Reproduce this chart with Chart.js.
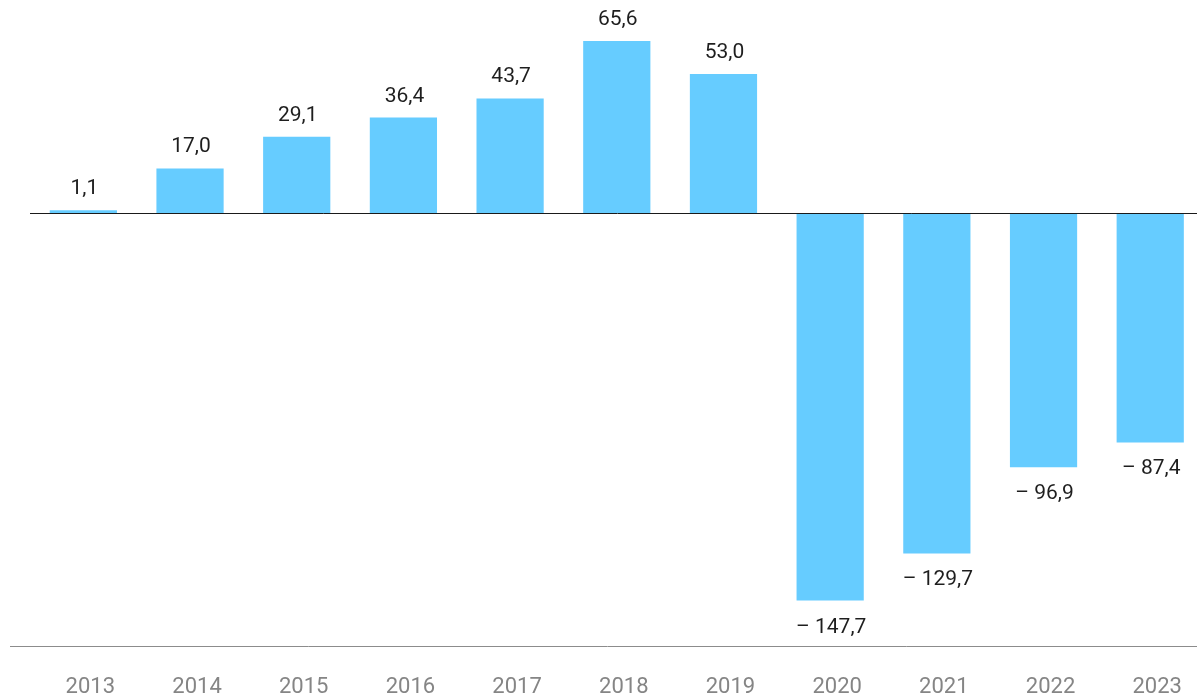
<!DOCTYPE html>
<html>
<head>
<meta charset="utf-8">
<script src="https://cdn.jsdelivr.net/npm/chart.js@4/dist/chart.umd.min.js"></script>
<style>
    html, body { margin: 0; padding: 0; background: #fff; overflow: hidden; width: 1197px; height: 699px; }
    canvas { display: block; }
</style>
</head>
<body>
<canvas id="chart" width="1205" height="728"></canvas>
<script>
const years = ['2013', '2014', '2015', '2016', '2017', '2018', '2019', '2020', '2021', '2022', '2023'];
const values = [1.1, 17.0, 29.1, 36.4, 43.7, 65.6, 53.0, -147.7, -129.7, -96.9, -87.4];

function formatValue(v) {
    const s = Math.abs(v).toFixed(1).replace('.', ',');
    return v < 0 ? '\u2013 ' + s : s;
}

const valueLabels = {
    id: 'valueLabels',
    afterDatasetsDraw(chart) {
        const ctx = chart.ctx;
        const meta = chart.getDatasetMeta(0);
        ctx.save();
        ctx.font = '21px Roboto, sans-serif';
        ctx.fillStyle = '#1e1e1e';
        ctx.textAlign = 'center';
        ctx.textBaseline = 'alphabetic';
        meta.data.forEach((bar, i) => {
            const v = values[i];
            const y = v >= 0 ? bar.y - 16 : bar.y + 32;
            ctx.fillText(formatValue(v), bar.x + 1, y);
        });
        ctx.restore();
    }
};

const axisLines = {
    id: 'axisLines',
    afterDatasetsDraw(chart) {
        const ctx = chart.ctx;
        const area = chart.chartArea;
        const y0 = Math.round(chart.scales.y.getPixelForValue(0)) + 0.5;
        ctx.save();
        ctx.strokeStyle = '#1a1a1a';
        ctx.lineWidth = 1;
        ctx.beginPath();
        ctx.moveTo(area.left, y0);
        ctx.lineTo(chart.width, y0);
        ctx.stroke();
        const yb = Math.round(area.bottom) + 0.5;
        ctx.strokeStyle = '#8c8c8c';
        ctx.beginPath();
        ctx.moveTo(10, yb);
        ctx.lineTo(chart.width, yb);
        ctx.stroke();
        ctx.restore();
    }
};

new Chart(document.getElementById('chart'), {
    type: 'bar',
    data: {
        labels: years,
        datasets: [{
            data: values,
            backgroundColor: '#66ccff',
            borderWidth: 0,
            barPercentage: 0.63,
            categoryPercentage: 1
        }]
    },
    options: {
        responsive: false,
        animation: false,
        layout: { padding: { left: 30, right: 1, top: 0, bottom: 0 } },
        plugins: {
            legend: { display: false },
            tooltip: { enabled: false }
        },
        scales: {
            x: {
                grid: { display: false, drawTicks: false },
                border: { display: false },
                ticks: {
                    color: '#858585',
                    font: { family: 'Roboto, sans-serif', size: 22, lineHeight: 1 },
                    padding: 30,
                    labelOffset: 7
                }
            },
            y: {
                display: false,
                min: -165,
                max: 81.2
            }
        }
    },
    plugins: [valueLabels, axisLines]
});
</script>
</body>
</html>
